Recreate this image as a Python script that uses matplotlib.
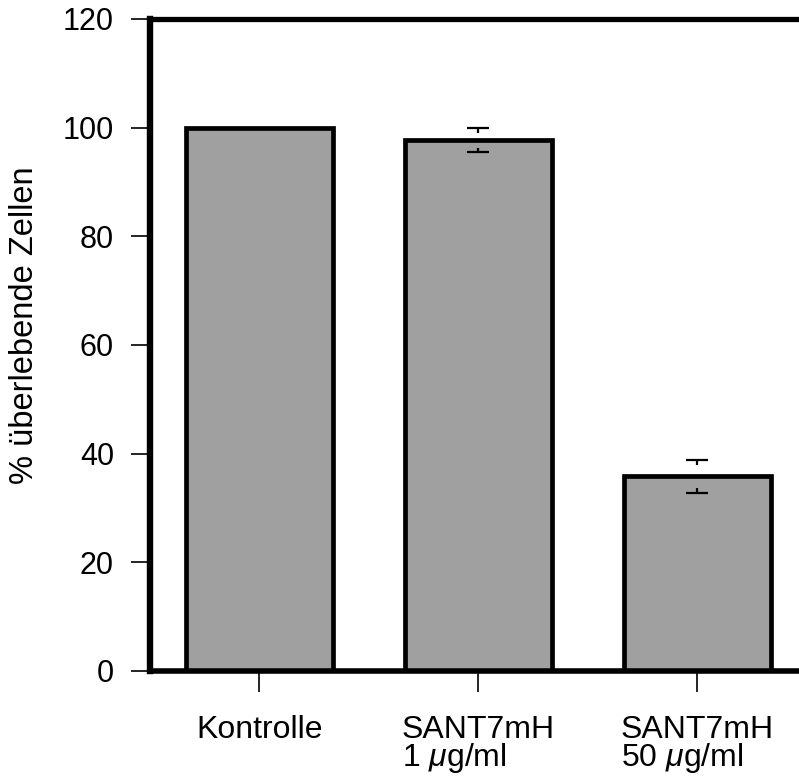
import matplotlib
matplotlib.use('Agg')
from matplotlib import pyplot as plt

plt.rcParams['font.family'] = ['Liberation Sans', 'DejaVu Sans']
plt.rcParams['mathtext.fontset'] = 'custom'
plt.rcParams['mathtext.it'] = 'Liberation Sans:italic'
plt.rcParams['mathtext.rm'] = 'Liberation Sans'

# Data
categories = ['Kontrolle', 'SANT7mH\n1 $\\mu$g/ml', 'SANT7mH\n50 $\\mu$g/ml']
values = [100, 97.7, 35.8]
errors = [0, 2.2, 3.0]
y_ticks = [0, 20, 40, 60, 80, 100, 120]

fig = plt.figure(figsize=(7.99, 7.76), dpi=100)
ax = fig.add_axes([150 / 799, 1 - 671 / 776, 1 - 150 / 799, (671 - 19) / 776])

x = list(range(len(categories)))
ax.bar(x, values, width=0.67, color='#a0a0a0', edgecolor='black', linewidth=3.4, zorder=2)

# error bars: caps with short stems only (stem middle not drawn)
stem = 0.8
for xi, v, e in zip(x, values, errors):
    if e > 0:
        ax.errorbar(xi, v, yerr=e, fmt='none', ecolor='black', elinewidth=0,
                    capsize=8, capthick=1.6, zorder=3)
        ax.vlines(xi, v + e - stem, v + e, color='black', lw=1.6, zorder=3)
        ax.vlines(xi, v - e, v - e + stem, color='black', lw=1.6, zorder=3)

ax.set_xlim(-0.5, 2.465)
ax.set_ylim(0, 120)

# Spines
ax.spines['right'].set_visible(False)
ax.spines['left'].set_linewidth(4.6)
ax.spines['top'].set_linewidth(3.8)
ax.spines['bottom'].set_linewidth(4)

ax.set_yticks(y_ticks)
ax.set_xticks(x)
ax.set_xticklabels(categories, multialignment='left', linespacing=0.82, fontsize=23)
ax.tick_params(axis='y', length=14, width=1.2, pad=12, labelsize=22)
ax.tick_params(axis='x', length=15, width=1.2, pad=17)

fig.text(25 / 799, 1 - 325 / 776, '% überlebende Zellen', rotation=90,
         ha='center', va='center', fontsize=23.5)

plt.savefig('out.png', dpi=100)
